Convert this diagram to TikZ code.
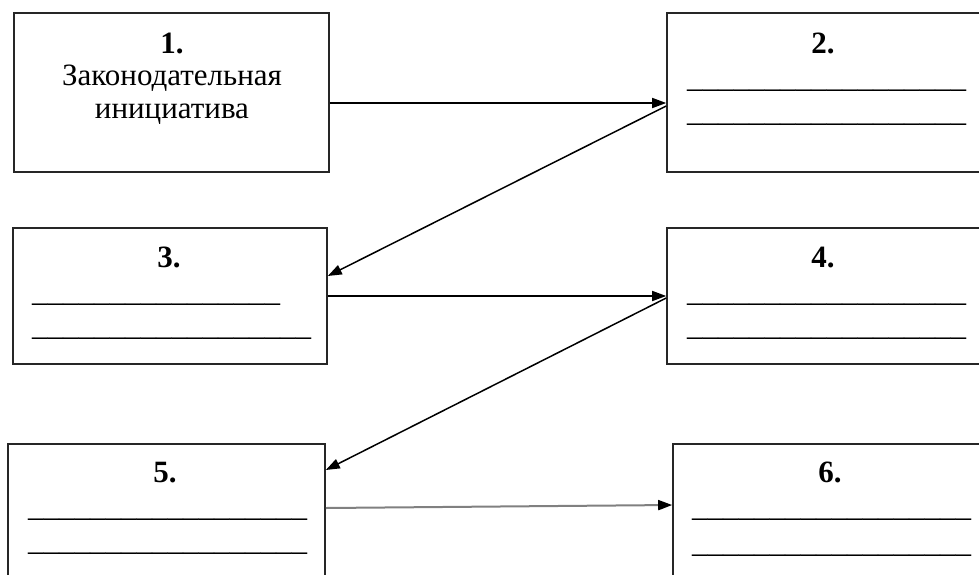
\documentclass[tikz,border=0pt]{standalone}
\usepackage{fontspec}
\setmainfont{Liberation Serif}
\usetikzlibrary{arrows.meta,calc}
\begin{document}
\begin{tikzpicture}[x=1pt,y=-1pt,
  box/.style={draw=black!85, line width=1.6pt, rectangle, inner sep=0pt},
  num/.style={font=\fontsize{31}{35}\selectfont\bfseries, anchor=base, inner sep=0pt},
  lbl/.style={font=\fontsize{31}{35}\selectfont, anchor=base, inner sep=0pt},
  blank/.style={font=\fontsize{31}{35}\selectfont, anchor=base west, inner sep=0pt},
  conn/.style={line width=1.5pt, -{Triangle[length=14pt,width=10pt]}},
]
\useasboundingbox (0,0) rectangle (979,574);
\clip (0,0) rectangle (979,574);
% boxes
\node[box, minimum width=315pt, minimum height=159pt] (b1) at (171.5,92.5) {};
\node[box, minimum width=320pt, minimum height=159pt] (b2) at (827,92.5) {};
\node[box, minimum width=314pt, minimum height=136pt] (b3) at (170,296) {};
\node[box, minimum width=320pt, minimum height=136pt] (b4) at (827,296) {};
\node[box, minimum width=317pt, minimum height=156pt] (b5) at (166.5,522) {};
\node[box, minimum width=315pt, minimum height=156pt] (b6) at (830.5,522) {};
% box 1 text
\node[num] (t1) at (172,53) {1.};
\node[lbl] (t1a) at (172,85) {Законодательная};
\node[lbl] (t1b) at (172,118) {инициатива};
% box 2
\node[num] (t2) at (823,53) {2.};
\node[blank] (l2a) at (687,87) {\_\_\_\_\_\_\_\_\_\_\_\_\_\_\_\_\_\_};
\node[blank] (l2b) at (687,121) {\_\_\_\_\_\_\_\_\_\_\_\_\_\_\_\_\_\_};
% box 3
\node[num] (t3) at (169,267) {3.};
\node[blank] (l3a) at (32,301) {\_\_\_\_\_\_\_\_\_\_\_\_\_\_\_\_};
\node[blank] (l3b) at (32,335) {\_\_\_\_\_\_\_\_\_\_\_\_\_\_\_\_\_\_};
% box 4
\node[num] (t4) at (823,267) {4.};
\node[blank] (l4a) at (687,301) {\_\_\_\_\_\_\_\_\_\_\_\_\_\_\_\_\_\_};
\node[blank] (l4b) at (687,335) {\_\_\_\_\_\_\_\_\_\_\_\_\_\_\_\_\_\_};
% box 5
\node[num] (t5) at (165,482) {5.};
\node[blank] (l5a) at (28,516) {\_\_\_\_\_\_\_\_\_\_\_\_\_\_\_\_\_\_};
\node[blank] (l5b) at (28,550) {\_\_\_\_\_\_\_\_\_\_\_\_\_\_\_\_\_\_};
% box 6
\node[num] (t6) at (830,482) {6.};
\node[blank] (l6a) at (692,516) {\_\_\_\_\_\_\_\_\_\_\_\_\_\_\_\_\_\_};
\node[blank] (l6b) at (692,552) {\_\_\_\_\_\_\_\_\_\_\_\_\_\_\_\_\_\_};
% connectors
\draw[conn] ($(b1.east)+(0,10.5)$) -- ($(b2.west)+(0,10.5)$);
\draw[conn] ($(b2.west)+(0,13.5)$) -- ($(b3.east)+(0,-20)$);
\draw[conn] (b3.east) -- (b4.west);
\draw[conn] ($(b4.west)+(0,2)$) -- ($(b5.east)+(0,-52)$);
\draw[conn, draw=black!50, line width=2pt, -{Triangle[length=14pt,width=10pt,color=black]}] ($(b5.east)+(0,-14)$) -- ($(b6.west)+(0,-17)$);
\end{tikzpicture}
\end{document}
